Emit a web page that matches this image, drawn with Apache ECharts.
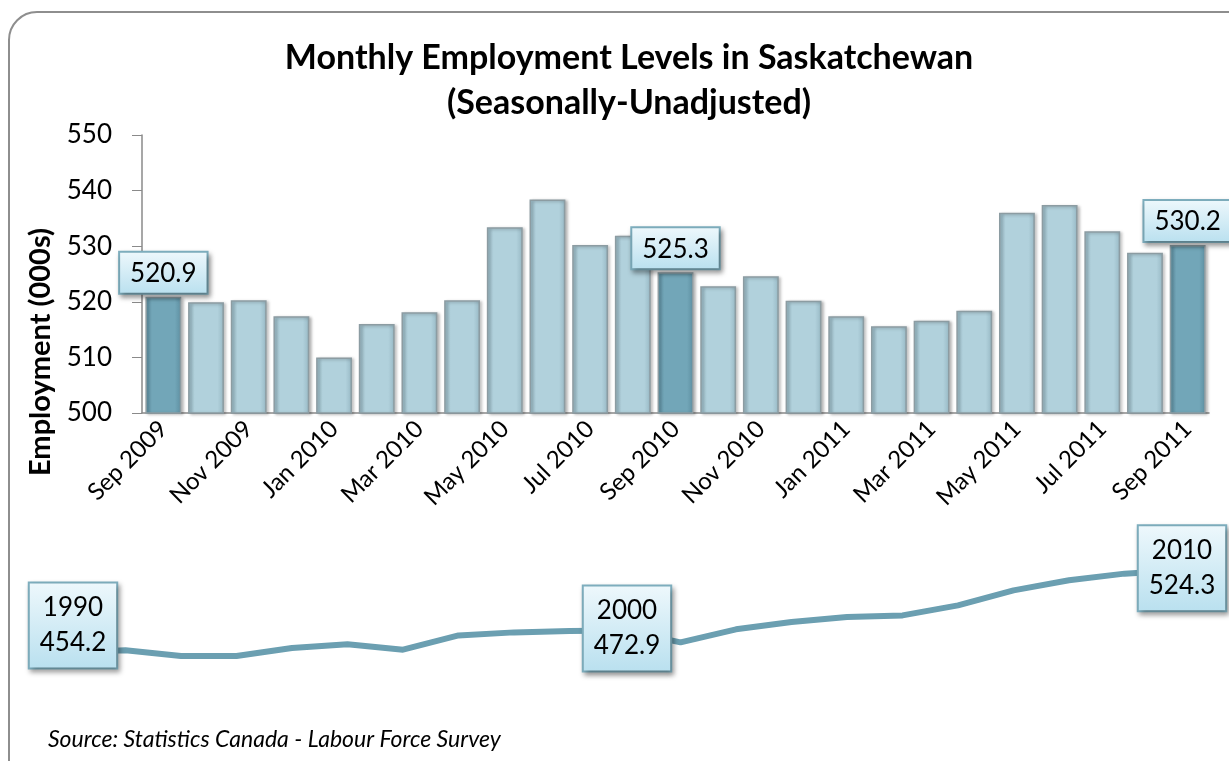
<!DOCTYPE html>
<html>
<head>
<meta charset="utf-8">
<script src="https://cdn.jsdelivr.net/npm/echarts@6/dist/echarts.min.js"></script>
<style>
  html, body { margin: 0; padding: 0; background: #fff; }
  #chart { width: 1229px; height: 761px; }
</style>
</head>
<body>
<div id="chart"></div>
<script>
// monthly employment, seasonally unadjusted (000s)
const months = ['Sep 2009', 'Oct 2009', 'Nov 2009', 'Dec 2009', 'Jan 2010', 'Feb 2010', 'Mar 2010',
  'Apr 2010', 'May 2010', 'Jun 2010', 'Jul 2010', 'Aug 2010', 'Sep 2010', 'Oct 2010', 'Nov 2010',
  'Dec 2010', 'Jan 2011', 'Feb 2011', 'Mar 2011', 'Apr 2011', 'May 2011', 'Jun 2011', 'Jul 2011',
  'Aug 2011', 'Sep 2011']
const employment = [520.9, 519.9, 520.3, 517.4, 510.0, 516.0, 518.1, 520.3, 533.4, 538.4, 530.2,
  531.9, 525.3, 522.8, 524.6, 520.2, 517.4, 515.6, 516.6, 518.4, 536.0, 537.4, 532.7, 528.8, 530.2]
const yTicks = [500, 510, 520, 530, 540, 550]

// annual averages
const years = ['1990', '1991', '1992', '1993', '1994', '1995', '1996', '1997', '1998', '1999', '2000',
  '2001', '2002', '2003', '2004', '2005', '2006', '2007', '2008', '2009', '2010']
const annual = [454.2, 456.0, 451.1, 451.1, 457.9, 461.1, 456.5, 468.7, 471.3, 472.5, 472.9,
  462.8, 473.9, 480.1, 484.4, 485.8, 494.4, 507.2, 515.8, 521.5, 524.3]
const labelYears = ['1990', '2000', '2010']

const FONT = 'Lato'

const barLight = {
  type: 'linear', x: 0, y: 0, x2: 1, y2: 0,
  colorStops: [{ offset: 0, color: '#97b8c4' }, { offset: 0.18, color: '#b1d1dc' },
    { offset: 0.82, color: '#b1d1dc' }, { offset: 1, color: '#97b8c4' }]
}
const barDark = {
  type: 'linear', x: 0, y: 0, x2: 1, y2: 0,
  colorStops: [{ offset: 0, color: '#5d8fa1' }, { offset: 0.18, color: '#72a6b8' },
    { offset: 0.82, color: '#72a6b8' }, { offset: 1, color: '#5d8fa1' }]
}
const boxFill = {
  type: 'linear', x: 0, y: 0, x2: 0, y2: 1,
  colorStops: [{ offset: 0, color: '#eef8fc' }, { offset: 1, color: '#b9e0ef' }]
}
const boxLabel = {
  color: '#000',
  fontFamily: FONT,
  fontSize: 26,
  backgroundColor: boxFill,
  borderColor: '#7eaebe',
  borderWidth: 2,
  shadowColor: 'rgba(0,0,0,0.35)',
  shadowBlur: 5,
  shadowOffsetX: 2,
  shadowOffsetY: 3
}

// september bars are highlighted and labelled
const barData = employment.map((v, i) => {
  if (!months[i].startsWith('Sep')) return v
  return {
    value: v,
    itemStyle: { color: barDark },
    label: Object.assign({ show: true, position: 'top', distance: 4, padding: [8, 10, 6, 10] }, boxLabel)
  }
})

const lineData = annual.map((v, i) => {
  const idx = labelYears.indexOf(years[i])
  if (idx < 0) return v
  return {
    value: v,
    label: Object.assign({
      show: true,
      position: 'inside',
      offset: idx === 0 ? [3, -27] : [2, -2],
      lineHeight: 35,
      padding: [8, 10, 6, 10],
      formatter: p => p.name + '\n' + p.value.toFixed(1)
    }, boxLabel)
  }
})

const myChart = echarts.init(document.getElementById('chart'))

const option = {
  animation: false,
  backgroundColor: '#fff',
  title: {
    text: 'Monthly Employment Levels in Saskatchewan\n(Seasonally-Unadjusted)',
    left: 624,
    top: 31,
    textAlign: 'center',
    textStyle: { fontFamily: FONT, fontSize: 34, fontWeight: 'bold', color: '#000', lineHeight: 45 }
  },
  graphic: [
    {
      type: 'rect',
      shape: { x: 9, y: 12, width: 1260, height: 780, r: 28 },
      style: { fill: 'none', stroke: '#8e8e8e', lineWidth: 2 },
      z: -1
    },
    {
      type: 'text',
      x: 41, y: 352,
      rotation: Math.PI / 2,
      style: {
        text: 'Employment (000s)', fontFamily: FONT, fontSize: 29, fontWeight: 'bold',
        fill: '#000', align: 'center', verticalAlign: 'middle'
      }
    },
    {
      type: 'text',
      x: 48, y: 740,
      style: {
        text: 'Source: Statistics Canada - Labour Force Survey', fontFamily: FONT, fontSize: 23,
        fontStyle: 'italic', fill: '#000', verticalAlign: 'middle'
      }
    }
  ],
  grid: [
    { left: 142, right: 20, top: 135, height: 278 },
    { left: 70, right: 49, top: 552, height: 117 }
  ],
  xAxis: [
    {
      type: 'category',
      gridIndex: 0,
      data: months,
      axisLine: { lineStyle: { color: '#8a8a8a', width: 1.5 } },
      axisTick: { interval: 1, length: 8, lineStyle: { color: '#8a8a8a' } },
      axisLabel: { interval: 1, rotate: 45, margin: 12, fontFamily: FONT, fontSize: 24, color: '#000' }
    },
    {
      type: 'category',
      gridIndex: 1,
      data: years,
      boundaryGap: false,
      show: false
    }
  ],
  yAxis: [
    {
      type: 'value',
      gridIndex: 0,
      min: yTicks[0],
      max: yTicks[yTicks.length - 1],
      interval: 10,
      splitLine: { show: false },
      axisLine: { show: true, lineStyle: { color: '#8a8a8a', width: 1.5 } },
      axisTick: { show: true, length: 10, lineStyle: { color: '#8a8a8a' } },
      axisLabel: { margin: 30, fontFamily: FONT, fontSize: 26, color: '#000' }
    },
    {
      type: 'value',
      gridIndex: 1,
      min: 440,
      max: 540,
      show: false
    }
  ],
  series: [
    {
      type: 'bar',
      xAxisIndex: 0,
      yAxisIndex: 0,
      data: barData,
      barCategoryGap: '16%',
      itemStyle: {
        color: barLight,
        borderColor: '#8c9ca2',
        borderWidth: 1.5,
        shadowColor: 'rgba(0,0,0,0.25)',
        shadowBlur: 3,
        shadowOffsetX: 2,
        shadowOffsetY: 1
      }
    },
    {
      type: 'line',
      xAxisIndex: 1,
      yAxisIndex: 1,
      data: lineData,
      symbol: 'circle',
      symbolSize: 0,
      showSymbol: true,
      lineStyle: { color: '#6b9fb1', width: 6 },
      itemStyle: { color: '#6b9fb1' },
      z: 3
    }
  ]
}

myChart.setOption(option)
</script>
</body>
</html>
